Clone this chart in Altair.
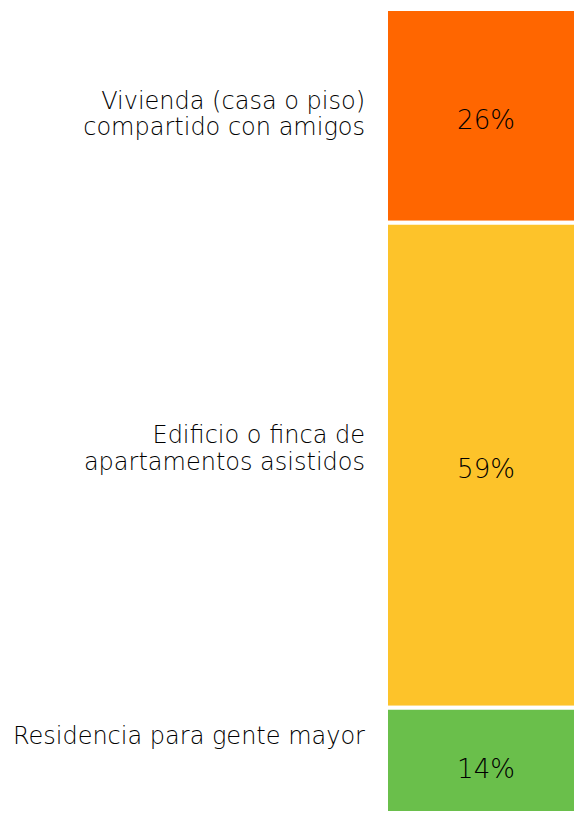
import altair as alt
import pandas as pd

categories = [
    "Vivienda (casa o piso)\ncompartido con amigos",
    "Edificio o finca de\napartamentos asistidos",
    "Residencia para gente mayor",
]
values = [26, 59, 14]
colors = ["#FF6600", "#FDC32A", "#6ABF4B"]

K_BAR = 8.22      # px per percentage point for the bar
K_LAB = 7.87      # px per percentage point for the left labels
LINE_H = 26.5
W = 566
H = 802
FONT = "DejaVu Sans"

rows = []
start = 0
for i, (c, v) in enumerate(zip(categories, values)):
    n_lines = c.count("\n") + 1
    mid = start + v / 2
    rows.append({
        "cat": c,
        "value": v,
        "start": start,
        "end": start + v,
        "mid": mid,
        "lab_y": mid - (n_lines - 1) * LINE_H / 2 / K_LAB,
        "label": f"{v}%",
        "col": "a",
    })
    start += v
df = pd.DataFrame(rows)

x_scale = alt.Scale(range=[378, 578], paddingInner=0, paddingOuter=0)
y_bar = alt.Scale(domain=[0, H / K_BAR], reverse=True, nice=False, zero=False)
y_lab = alt.Scale(domain=[0, H / K_LAB], reverse=True, nice=False, zero=False)
color_scale = alt.Scale(domain=categories, range=colors)

base = alt.Chart(df)

bars = base.mark_bar(stroke="white", strokeWidth=4, cornerRadius=0).encode(
    x=alt.X("col:N", scale=x_scale, axis=None),
    y=alt.Y("start:Q", scale=y_bar, axis=None),
    y2="end:Q",
    color=alt.Color("cat:N", scale=color_scale, legend=None),
)

pct = base.mark_text(
    font=FONT, fontSize=26, fontWeight=200, color="#000000",
    align="center", baseline="middle", dy=5,
).encode(
    x=alt.X("col:N", scale=x_scale, axis=None),
    y=alt.Y("mid:Q", scale=y_bar, axis=None),
    text="label:N",
)

bar_layer = alt.layer(bars, pct)

cats = base.mark_text(
    font=FONT, fontSize=24, fontWeight=200, color="#000000",
    align="right", baseline="middle", lineBreak="\n", lineHeight=LINE_H, dy=3.7,
).encode(
    x=alt.value(357),
    y=alt.Y("lab_y:Q", scale=y_lab, axis=None),
    text="cat:N",
)

chart = alt.layer(bar_layer, cats).resolve_scale(y="independent").properties(
    width=W,
    height=H,
    autosize=alt.AutoSizeParams(type="none"),
    padding={"left": 0, "top": 1, "right": 0, "bottom": 0},
    background="white",
).configure_view(stroke=None)

chart.save("out.html", embed_options={"renderer": "svg", "actions": False})
